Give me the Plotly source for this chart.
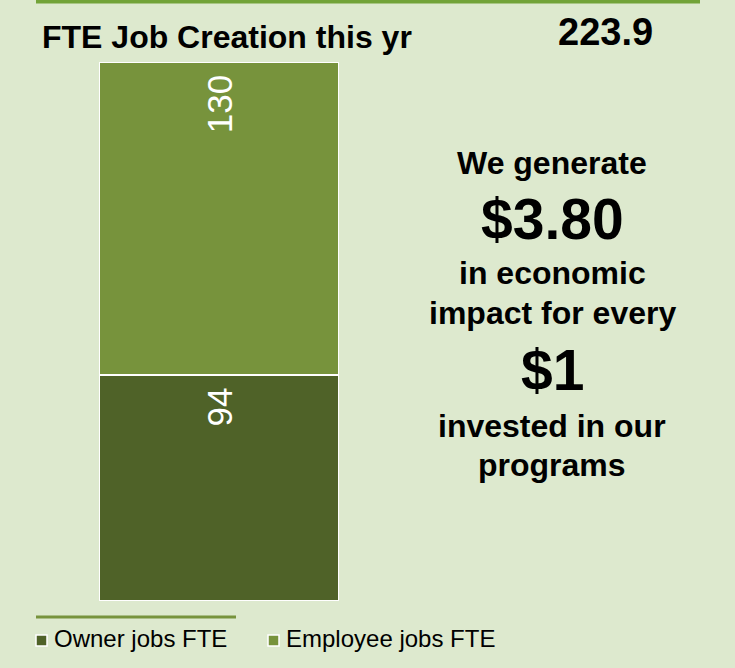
import plotly.graph_objects as go

# --- data ---
categories = ["FTE"]
series_names = ["Owner jobs FTE", "Employee jobs FTE"]
owner_jobs = [94]
employee_jobs = [130]
total_fte = "223.9"
impact_lines = ["We generate", "$3.80", "in economic", "impact for every", "$1",
                "invested in our", "programs"]

BG = "#DDE9CE"
DARK = "#4F6228"
LIGHT = "#77933C"
FONT = "Arial, Liberation Sans, sans-serif"
W, H = 735, 668
TOP, BOTTOM = 62, 601


def py(pix):
    """pixel row -> paper y"""
    return (BOTTOM - pix) / (BOTTOM - TOP)


fig = go.Figure()
for name, vals, col in [(series_names[0], owner_jobs, DARK),
                        (series_names[1], employee_jobs, LIGHT)]:
    fig.add_trace(go.Bar(
        x=categories, y=vals, name=name, width=1,
        marker=dict(color=col, line=dict(color="white", width=2)),
        text=vals, texttemplate="%{text}\u00a0", textposition="inside",
        insidetextanchor="end", textangle=-90,
        textfont=dict(family=FONT, size=35, color="white"),
        showlegend=False,
    ))

# header
fig.add_annotation(text="<b>FTE Job Creation this yr</b>", x=40 / W, y=py(37),
                   xref="paper", yref="paper", xanchor="left", yanchor="middle",
                   showarrow=False, font=dict(family=FONT, size=32, color="black"))
fig.add_annotation(text=f"<b>{total_fte}</b>", x=556 / W, y=py(32),
                   xref="paper", yref="paper", xanchor="left", yanchor="middle",
                   showarrow=False, font=dict(family=FONT, size=38, color="black"))

# impact text on the right
ys = [163, 219, 273, 313, 370, 426, 465]
for txt, yy in zip(impact_lines, ys):
    big = txt.startswith("$")
    fig.add_annotation(text=f"<b>{txt}</b>", x=552 / W, y=py(yy),
                       xref="paper", yref="paper", xanchor="center", yanchor="middle",
                       showarrow=False,
                       font=dict(family=FONT, size=57 if big else 32, color="black"))

# lines
fig.add_shape(type="line", xref="paper", yref="paper", x0=36 / W, x1=700 / W,
              y0=py(1.5), y1=py(1.5), line=dict(color="#72A338", width=4))
fig.add_shape(type="line", xref="paper", yref="paper", x0=36 / W, x1=236 / W,
              y0=py(617), y1=py(617), line=dict(color=LIGHT, width=3))

# legend
for name, col, x0 in [(series_names[0], DARK, 36), (series_names[1], LIGHT, 268)]:
    fig.add_shape(type="rect", xref="paper", yref="paper",
                  x0=x0 / W, x1=(x0 + 11) / W, y0=py(646), y1=py(635),
                  fillcolor=col, line=dict(color="white", width=1.5))
    fig.add_annotation(text=name, x=(x0 + 16) / W, y=py(638),
                       xref="paper", yref="paper", xanchor="left", yanchor="middle",
                       showarrow=False, font=dict(family=FONT, size=24, color="black"))

fig.update_layout(
    width=W, height=H, barmode="stack",
    paper_bgcolor=BG, plot_bgcolor=BG,
    margin=dict(l=0, r=0, t=TOP, b=H - BOTTOM),
    showlegend=False,
    xaxis=dict(domain=[99 / W, 339 / W], range=[-0.5, 0.5], visible=False),
    yaxis=dict(range=[0, 224], visible=False),
)

fig.write_html("out.html", config={"displayModeBar": False},
               post_script="document.body.style.margin='0';")
